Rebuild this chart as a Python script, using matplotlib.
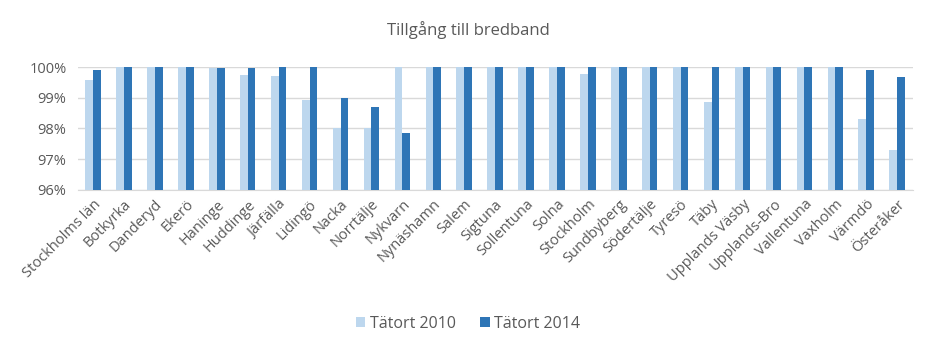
import matplotlib.pyplot as plt
import numpy as np
from matplotlib.ticker import FuncFormatter

plt.rcParams['font.family'] = ['Open Sans', 'DejaVu Sans']

kommuner = ['Stockholms län', 'Botkyrka', 'Danderyd', 'Ekerö', 'Haninge', 'Huddinge',
            'Järfälla', 'Lidingö', 'Nacka', 'Norrtälje', 'Nykvarn', 'Nynäshamn', 'Salem',
            'Sigtuna', 'Sollentuna', 'Solna', 'Stockholm', 'Sundbyberg', 'Södertälje',
            'Tyresö', 'Täby', 'Upplands Väsby', 'Upplands-Bro', 'Vallentuna', 'Vaxholm',
            'Värmdö', 'Österåker']
tatort_2010 = [99.59, 100, 100, 100, 99.98, 99.73, 99.70, 98.92, 98.00, 98.00, 100, 100, 100,
               100, 100, 100, 99.76, 100, 100, 100, 98.85, 100, 100, 100, 100, 98.30, 97.30]
tatort_2014 = [99.89, 100, 100, 100, 99.96, 99.96, 100, 100, 98.99, 98.69, 97.86, 100, 100,
               100, 100, 100, 100, 100, 100, 100, 100, 100, 100, 100, 100, 99.92, 99.68]

light = '#BDD7EE'
dark = '#2E75B6'
txt = '#595959'

fig = plt.figure(figsize=(9.36, 3.53), dpi=100)
ax = fig.add_axes([0.083, 0.462, 0.892, 0.348])

x = np.arange(len(kommuner))
w = 0.25
ax.bar(x - w / 2, tatort_2010, w, color=light, label='Tätort 2010', zorder=3)
ax.bar(x + w / 2, tatort_2014, w, color=dark, label='Tätort 2014', zorder=3)

ax.set_xlim(-0.5, len(kommuner) - 0.5)
ax.set_ylim(96, 100)
ax.set_yticks([96, 97, 98, 99, 100])
ax.yaxis.set_major_formatter(FuncFormatter(lambda v, p: '%d%%' % v))
ax.grid(axis='y', color='#D9D9D9', linewidth=1, zorder=0)

ax.set_xticks(x)
ax.set_xticklabels(kommuner, rotation=45, ha='right', rotation_mode='anchor')
ax.tick_params(axis='both', length=0, colors=txt)
ax.tick_params(axis='y', labelsize=10.5, pad=8)
ax.tick_params(axis='x', labelsize=10.5, pad=5)

for s in ['top', 'right', 'left']:
    ax.spines[s].set_visible(False)
ax.spines['bottom'].set_color('#D9D9D9')

fig.text(0.5, 0.915, 'Tillgång till bredband', ha='center', va='center',
         fontsize=12, color=txt)

fig.legend(loc='center', bbox_to_anchor=(0.5, 0.082), ncol=2, frameon=False,
           fontsize=11.5, labelcolor=txt, handlelength=0.6, handleheight=0.6,
           handletextpad=0.3, columnspacing=1.5)

fig.savefig('out.png', dpi=100)
